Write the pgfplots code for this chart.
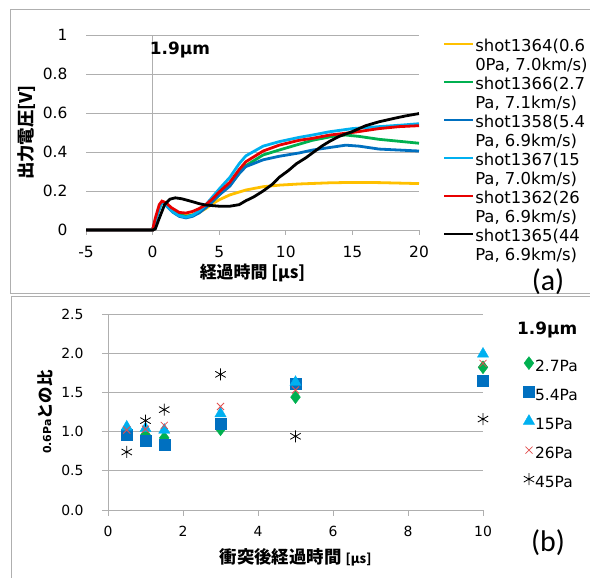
\documentclass[border=0pt]{standalone}
\usepackage{pgfplots}
\pgfplotsset{compat=1.18}
\usepackage{fontspec}
\setmainfont{DejaVu Sans}
\newfontfamily\cjk{Noto Sans CJK JP}
\newfontfamily\calib{Carlito}
\definecolor{cYel}{RGB}{255,192,0}
\definecolor{cGrn}{RGB}{0,176,80}
\definecolor{cBlu}{RGB}{0,112,192}
\definecolor{cCya}{RGB}{0,176,240}
\definecolor{cRed}{RGB}{232,0,0}
\definecolor{cX}{RGB}{225,80,80}
\definecolor{frm}{RGB}{175,175,175}
\definecolor{gridc}{RGB}{175,175,175}
\begin{document}
\begin{tikzpicture}
\useasboundingbox (0bp,0bp) rectangle (590bp,578bp);
\draw[frm, line width=0.8bp] (10bp,569bp) rectangle (593bp,284.5bp);
\draw[frm, line width=0.8bp] (11bp,281.5bp) rectangle (593bp,-3bp);

% ---------- (a) ----------
\begin{axis}[
  at={(86bp,348bp)}, anchor=south west, scale only axis, clip=false,
  width=333bp, height=195bp,
  xmin=-5, xmax=20, ymin=0, ymax=1,
  xtick={-5,0,5,10,15,20}, ytick={0,0.2,0.4,0.6,0.8,1},
  axis lines*=left, x axis line style={gridc,-,line width=0.8bp}, y axis line style={draw=none},
  tick align=outside, major tick length=5bp,
  xtick style={gridc, line width=0.8bp}, ytick style={draw=none},
  ymajorgrids, grid style={gridc, line width=0.8bp},
  /pgf/number format/assume math mode=true,
  tick label style={font=\fontsize{15.5}{18}\selectfont},
  yticklabel style={xshift=-10bp},
  xticklabel style={yshift=-8bp},
  every axis y label/.style={at={(axis description cs:-0.177,0.5)}, rotate=90, anchor=center},
  every axis x label/.style={at={(axis description cs:0.5,-0.222)}, anchor=center},
  ylabel={\cjk\bfseries\fontsize{17.5}{20}\selectfont 出力電圧[V]},
  xlabel={\cjk\bfseries\fontsize{17}{20}\selectfont 経過時間 [µs]},
  legend style={at={(axis description cs:1.072,0.984)}, anchor=north west, draw=none, fill=none,
    font=\fontsize{16.5}{19}\selectfont, row sep=0bp, column sep=0bp, inner sep=0bp,
    nodes={inner xsep=0.5bp, inner ysep=0bp, text height=13bp, text depth=6bp}},
  legend cell align=left,
  legend image code/.code={\draw[#1, line width=2.6bp] (0bp,4bp) -- (29bp,4bp);},
]
\addplot[gridc, line width=0.8bp, forget plot] coordinates {(0,0) (0,1)};
\addplot[cYel, line width=2.8bp] coordinates {(-5,0)(0,0)(0.3,0.07)(0.6,0.13)(0.8,0.14)(1.1,0.13)(1.5,0.105)(2,0.085)(2.5,0.076)(3,0.078)(3.5,0.09)(4,0.11)(4.5,0.135)(5,0.155)(5.8,0.18)(7,0.205)(8.3,0.222)(9.5,0.23)(11,0.236)(13.3,0.242)(15,0.244)(17,0.243)(20,0.238)};
\addlegendentry{shot1364(0.6}
\addlegendimage{empty legend}
\addlegendentry{0Pa, 7.0km/s)}
\addplot[cGrn, line width=2.8bp] coordinates {(-5,0)(0,0)(0.3,0.07)(0.6,0.13)(0.8,0.14)(1.1,0.125)(1.5,0.1)(2,0.08)(2.5,0.07)(3,0.076)(3.5,0.092)(4,0.12)(4.5,0.15)(5,0.18)(5.8,0.23)(6.5,0.29)(7,0.33)(8.3,0.385)(9.5,0.41)(10.5,0.43)(12,0.46)(13.5,0.48)(14.5,0.487)(15.5,0.48)(17,0.465)(18.5,0.455)(20,0.445)};
\addlegendentry{shot1366(2.7}
\addlegendimage{empty legend}
\addlegendentry{Pa, 7.1km/s)}
\addplot[cBlu, line width=2.8bp] coordinates {(-5,0)(0,0)(0.3,0.07)(0.6,0.13)(0.8,0.14)(1.1,0.12)(1.5,0.092)(2,0.07)(2.5,0.062)(3,0.07)(3.5,0.088)(4,0.115)(4.5,0.145)(5,0.18)(5.8,0.225)(6.5,0.29)(7,0.325)(8.3,0.36)(9.5,0.378)(11,0.395)(12,0.41)(13,0.42)(14.5,0.435)(15.5,0.43)(17,0.415)(18.5,0.41)(20,0.405)};
\addlegendentry{shot1358(5.4}
\addlegendimage{empty legend}
\addlegendentry{Pa, 6.9km/s)}
\addplot[cCya, line width=2.8bp] coordinates {(-5,0)(0,0)(0.3,0.07)(0.6,0.13)(0.8,0.14)(1.1,0.12)(1.5,0.094)(2,0.073)(2.5,0.066)(3,0.075)(3.5,0.098)(4,0.13)(4.5,0.17)(5,0.21)(5.8,0.27)(6.5,0.34)(7,0.38)(8.3,0.43)(9.5,0.453)(11,0.475)(12,0.487)(13.3,0.504)(15,0.52)(17,0.53)(18.5,0.537)(20,0.545)};
\addlegendentry{shot1367(15}
\addlegendimage{empty legend}
\addlegendentry{Pa, 7.0km/s)}
\addplot[cRed, line width=2.8bp] coordinates {(-5,0)(0,0)(0.2,0.06)(0.5,0.13)(0.7,0.148)(1,0.14)(1.4,0.115)(2,0.09)(2.5,0.087)(3,0.095)(3.5,0.11)(4,0.13)(4.5,0.16)(5,0.195)(5.8,0.245)(6.5,0.31)(7,0.35)(8.3,0.405)(9.5,0.435)(11,0.46)(12,0.47)(13.3,0.487)(15,0.5)(17,0.52)(18.5,0.53)(20,0.535)};
\addlegendentry{shot1362(26}
\addlegendimage{empty legend}
\addlegendentry{Pa, 6.9km/s)}
\addplot[black, line width=2.8bp] coordinates {(-5,0)(0,0)(0.2,0.005)(0.5,0.06)(0.9,0.13)(1.3,0.158)(1.7,0.165)(2.2,0.16)(3,0.145)(3.5,0.135)(4,0.128)(5,0.122)(5.8,0.122)(6.5,0.13)(7,0.15)(7.6,0.17)(8.3,0.2)(9,0.235)(9.5,0.27)(10.2,0.305)(10.8,0.34)(11.5,0.37)(12,0.395)(12.7,0.43)(13.3,0.455)(14,0.48)(15,0.505)(16,0.535)(17,0.555)(18.3,0.575)(19,0.585)(20,0.597)};
\addlegendentry{shot1365(44}
\addlegendimage{empty legend}
\addlegendentry{Pa, 6.9km/s)}
\node[font=\bfseries\fontsize{17}{20}\selectfont] at (axis description cs:0.282,0.923) {1.9µm};
\end{axis}

% ---------- (b) ----------
\begin{axis}[
  at={(108bp,68bp)}, anchor=south west, scale only axis, clip=false,
  width=375bp, height=196bp,
  xmin=0, xmax=10, ymin=0, ymax=2.5,
  xtick={0,2,4,6,8,10}, ytick={0,0.5,1,1.5,2,2.5},
  axis lines*=left, axis line style={gridc,-,line width=0.8bp},
  tick align=outside, major tick length=6bp,
  tick style={gridc, line width=0.8bp},
  ymajorgrids, grid style={gridc, line width=0.8bp},
  /pgf/number format/assume math mode=true,
  tick label style={font=\fontsize{14}{17}\selectfont},
  yticklabel style={xshift=-15bp, /pgf/number format/.cd, fixed, fixed zerofill, precision=1},
  xticklabel style={yshift=-7bp},
  every axis y label/.style={at={(axis description cs:-0.168,0.5)}, rotate=90, anchor=center},
  every axis x label/.style={at={(axis description cs:0.5,-0.24)}, anchor=center},
  ylabel={{\bfseries\fontsize{11}{13}\selectfont 0.6Pa}{\cjk\bfseries\fontsize{16.5}{20}\selectfont との比}},
  xlabel={\cjk\bfseries\fontsize{17.5}{20}\selectfont 衝突後経過時間 {\fontsize{13}{15}\selectfont [µs]}},
  legend style={at={(axis description cs:1.107,0.804)}, anchor=north west, draw=none, fill=none,
    font=\fontsize{15.5}{19}\selectfont, row sep=0bp, column sep=0bp, inner sep=0bp,
    nodes={inner xsep=0.5bp, inner ysep=6.5bp, text height=12bp, text depth=4bp}},
  legend cell align=left,
  legend image code/.code={\draw[#1] plot coordinates {(6bp,4bp)};},
]
\addplot[only marks, mark=diamond*, mark size=6.5bp, color=cGrn] coordinates {(0.5,1.0)(1,0.96)(1.5,0.92)(3,1.03)(5,1.44)(10,1.82)};
\addlegendentry{2.7Pa}
\addplot[only marks, mark=square*, mark size=5.5bp, color=cBlu] coordinates {(0.5,0.96)(1,0.89)(1.5,0.83)(3,1.1)(5,1.61)(10,1.65)};
\addlegendentry{5.4Pa}
\addplot[only marks, mark=triangle*, mark size=6.5bp, color=cCya] coordinates {(0.5,1.06)(1,1.04)(1.5,1.02)(3,1.23)(5,1.63)(10,1.99)};
\addlegendentry{15Pa}
\addplot[only marks, mark=x, mark size=5bp, color=cX, line width=0.8bp] coordinates {(0.5,1.02)(1,1.03)(1.5,1.08)(3,1.32)(5,1.53)(10,1.87)};
\addlegendentry{26Pa}
\addplot[only marks, mark=asterisk, mark size=6bp, color=black, line width=0.8bp] coordinates {(0.5,0.74)(1,1.14)(1.5,1.28)(3,1.73)(5,0.94)(10,1.16)};
\addlegendentry{45Pa}
\node[font=\bfseries\fontsize{17}{20}\selectfont] at (axis description cs:1.171,0.918) {1.9µm};
\end{axis}

\node[font=\calib\fontsize{30}{34}\selectfont] at (548bp,296bp) {(a)};
\node[font=\calib\fontsize{30}{34}\selectfont] at (548bp,35bp) {(b)};
\end{tikzpicture}
\end{document}
